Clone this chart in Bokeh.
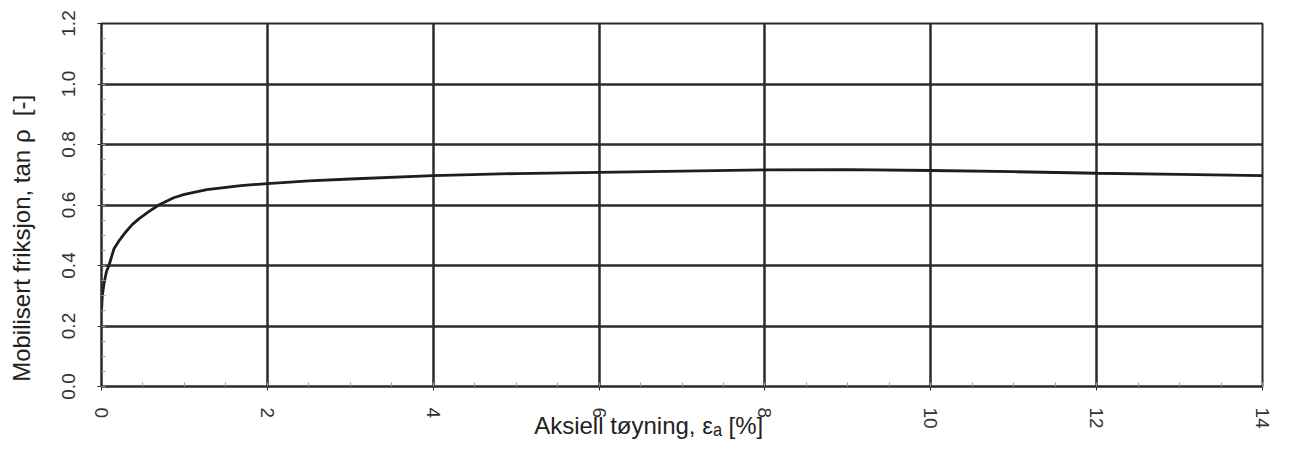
from bokeh.plotting import figure
from bokeh.models import Range1d, FixedTicker, PrintfTickFormatter, ColumnDataSource
from bokeh.embed import file_html
from bokeh.resources import INLINE

# Data
strain = [0.0, 0.01, 0.03, 0.06, 0.09, 0.15, 0.22, 0.29, 0.37, 0.45, 0.57, 0.69, 0.87, 1.0,
          1.27, 1.68, 2.0, 2.5, 3.0, 4.0, 5.0, 6.0, 7.0, 8.0, 9.0, 10.0, 11.0, 12.0, 13.0, 14.0]
friction = [0.25, 0.30, 0.34, 0.38, 0.40, 0.455, 0.485, 0.51, 0.535, 0.554, 0.578, 0.60, 0.624, 0.635,
            0.651, 0.664, 0.671, 0.680, 0.686, 0.697, 0.704, 0.708, 0.712, 0.716, 0.717, 0.714, 0.710, 0.705, 0.701, 0.697]
x_ticks = [0, 2, 4, 6, 8, 10, 12, 14]
y_ticks = [0.0, 0.2, 0.4, 0.6, 0.8, 1.0, 1.2]
x_label = "Aksiell tøyning, εₐ [%]"
y_label = "Mobilisert friksjon, tan ρ\u00a0 [-]"

FONT = "Liberation Sans"
DARK = "#2b2b2b"
NBSP = "\u00a0"

p = figure(width=1284, height=441, output_backend="svg", toolbar_location=None,
           x_range=Range1d(0, 14), y_range=Range1d(0, 1.2))
p.min_border_left = 101
p.min_border_right = 22
p.min_border_top = 23
p.min_border_bottom = 55
p.background_fill_color = "white"
p.border_fill_color = "white"
p.outline_line_color = DARK
p.outline_line_width = 2

src = ColumnDataSource(dict(x=strain, y=friction))
p.line("x", "y", source=src, line_color="#1e1e1e", line_width=2.8)

# axes
p.xaxis.ticker = FixedTicker(ticks=x_ticks, minor_ticks=[i * 0.5 for i in range(29)])
p.yaxis.ticker = FixedTicker(ticks=y_ticks, minor_ticks=[i * 0.05 for i in range(25)])
p.yaxis.formatter = PrintfTickFormatter(format="%.1f")

for ax in (p.xaxis[0], p.yaxis[0]):
    ax.axis_line_color = DARK
    ax.axis_line_width = 2
    ax.major_tick_line_color = DARK
    ax.major_tick_in = 0
    ax.major_tick_out = 4
    ax.minor_tick_line_color = "#9a9a9a"
    ax.minor_tick_in = 4
    ax.minor_tick_out = 0
    ax.major_label_text_font = FONT
    ax.major_label_text_font_size = "19px"
    ax.major_label_text_color = "#333333"
    ax.major_label_orientation = "vertical"
    ax.axis_label_text_font = FONT
    ax.axis_label_text_font_style = "normal"
    ax.axis_label_text_color = "#222222"

p.xaxis.major_label_standoff = 17
p.yaxis.major_label_standoff = 23

# axis titles (padded with no-break spaces so the visible text sits where the reference has it)
p.xaxis.axis_label = x_label + NBSP * 10
p.xaxis.axis_label_text_font_size = "24px"
p.xaxis.axis_label_standoff = -20
p.yaxis.axis_label = y_label + NBSP * 10
p.yaxis.axis_label_text_font_size = "24px"
p.yaxis.axis_label_standoff = 24

p.xgrid.grid_line_color = DARK
p.xgrid.grid_line_width = 2.5
p.ygrid.grid_line_color = DARK
p.ygrid.grid_line_width = 2.5

open("out.html", "w").write(file_html(p, INLINE))
